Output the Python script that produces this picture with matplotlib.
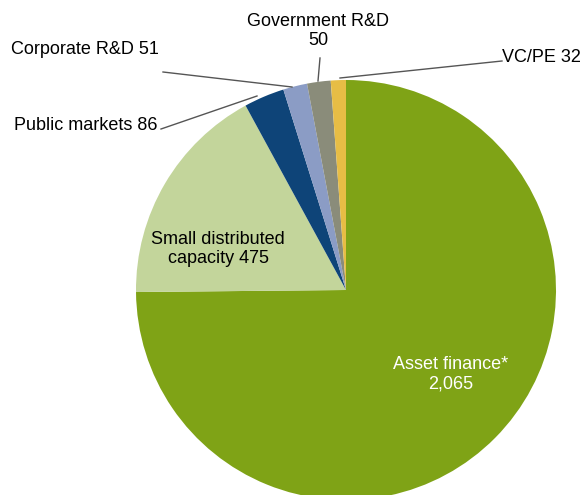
import matplotlib
matplotlib.use('Agg')
import matplotlib.pyplot as plt

H = 495

labels = ['Asset finance*', 'Small distributed capacity', 'Public markets',
          'Corporate R&D', 'Government R&D', 'VC/PE']
values = [2065, 475, 86, 51, 50, 32]
colors = ['#7fa316', '#c3d59b', '#0e4478', '#8b9cc5', '#8a8c7a', '#e7bd45']

plt.rcParams['font.family'] = ['Liberation Sans', 'DejaVu Sans']

fig = plt.figure(figsize=(5.84, 4.95), dpi=100)
ax = fig.add_axes([0, 0, 1, 1])

ax.pie(values, colors=colors, startangle=90, counterclock=False,
       center=(346, H - 290), radius=210, frame=True,
       wedgeprops=dict(linewidth=0))
ax.set_xlim(0, 584)
ax.set_ylim(0, H)
ax.axis('off')

def fmt(v):
    return '{:,}'.format(v)

fs = 13
# inside labels
ax.text(451, H - 374, labels[0] + '\n' + fmt(values[0]), color='white',
        ha='center', va='center', fontsize=fs, linespacing=1.22)
ax.text(218, H - 249, 'Small distributed\ncapacity ' + fmt(values[1]),
        color='black', ha='center', va='center', fontsize=fs, linespacing=1.22)

# outside labels with leader lines
lc = '#555555'
ax.text(14, H - 125, labels[2] + ' ' + fmt(values[2]), ha='left', va='center', fontsize=fs)
ax.plot([161, 257], [H - 129, H - 96], color=lc, lw=1)

ax.text(11, H - 50, labels[3] + ' ' + fmt(values[3]), ha='left', va='center', fontsize=fs)
ax.plot([163, 292], [H - 72, H - 87], color=lc, lw=1)

ax.text(318, H - 31, labels[4] + '\n' + fmt(values[4]), ha='center', va='center',
        fontsize=fs, linespacing=1.22)
ax.plot([320, 318], [H - 58, H - 81], color=lc, lw=1)

ax.text(502, H - 57, labels[5] + ' ' + fmt(values[5]), ha='left', va='center', fontsize=fs)
ax.plot([502, 340], [H - 61, H - 78], color=lc, lw=1)

fig.savefig('out.png', dpi=100)
